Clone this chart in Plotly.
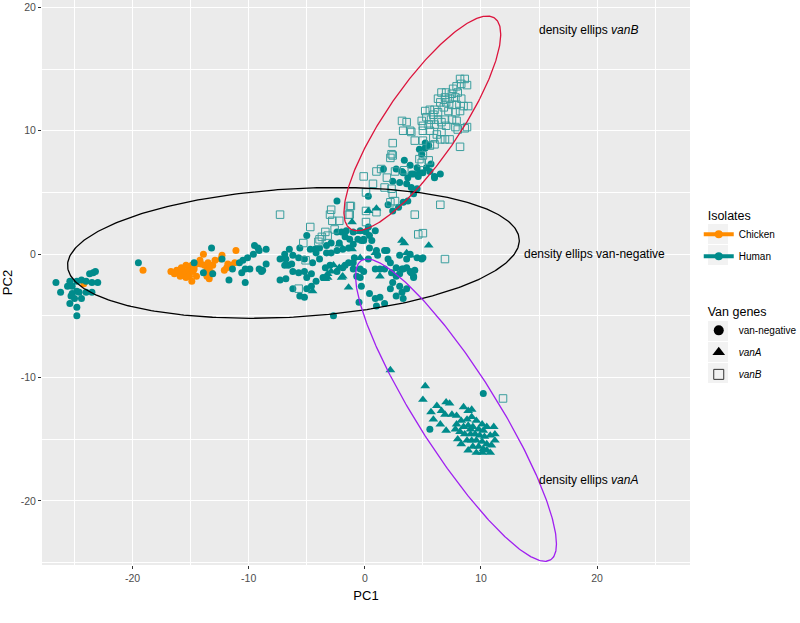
import numpy as np
import plotly.graph_objects as go

# ---------------- data ----------------
chicken_neg = [
    (-24.2, -2.4), (-19.1, -1.3), (-16.7, -1.4), (-16.2, -1.3), (-15.9, -1.5), (-15.8, -1.1),
    (-15.7, -1.3), (-15.5, -1.6), (-15.4, -0.9), (-15.2, -1.3), (-15.1, -1.8), (-14.9, -2.2),
    (-14.8, -1.4), (-14.7, -1.2), (-14.5, -1.8), (-15.4, -1.9), (-15.9, -1.8), (-14.2, -0.5),
    (-14.1, -0.8), (-13.9, 0.0), (-13.8, -0.9), (-13.6, -1.3), (-13.5, -0.7), (-13.4, -1.2),
    (-13.2, -1.5), (-13.1, -0.9), (-12.9, -0.5), (-13.6, -1.8), (-13.4, -2.0), (-14.5, -0.8),
    (-14.9, -0.9), (-12.3, -0.1), (-12.4, -0.4), (-11.9, -1.1), (-11.8, -0.8), (-11.5, -0.9),
    (-11.1, 0.3), (-11.2, -0.7), (-12.1, -1.3), (-16.4, -1.6),
]

human_neg = [
    # far-left cluster
    (-26.6, -2.3), (-26.2, -3.1), (-25.6, -2.6), (-25.4, -2.2), (-24.8, -2.2), (-24.4, -2.1),
    (-24.0, -2.2), (-23.7, -1.6), (-23.4, -1.5), (-23.2, -1.4), (-23.0, -2.3), (-23.5, -2.3),
    (-25.2, -2.6), (-24.8, -3.0), (-24.6, -3.1), (-24.0, -3.1), (-23.5, -3.1), (-25.3, -3.4),
    (-25.0, -3.6), (-24.4, -3.6), (-25.4, -4.0), (-24.8, -4.3), (-24.8, -5.0), (-25.2, -3.2),
    # among the chicken isolates
    (-19.5, -0.7), (-14.7, -0.7), (-13.2, 0.5), (-13.9, -1.5), (-13.1, -1.6), (-12.3, -0.4),
    (-11.7, -2.1), (-11.4, -1.2),
    # left-middle
    (-10.8, -0.7), (-10.5, -0.5), (-10.1, -0.3), (-9.6, 0.0), (-9.5, 0.7), (-9.2, 0.5),
    (-9.1, 0.3), (-8.5, 0.4), (-10.6, -1.5), (-10.3, -2.3), (-9.9, -1.2), (-9.1, -1.2),
    (-8.8, -1.3), (-8.5, -0.8), (-7.3, -0.4), (-7.3, -2.1), (-6.8, -2.0), (-6.6, -0.9),
    (-8.9, -1.4), (-10.3, -1.2),
    # middle
    (-2.4, 4.3), (-5.0, 1.5), (-2.4, 1.8), (-2.0, 1.8), (-1.6, 1.9), (-2.2, 0.9), (-2.9, 0.9),
    (-3.3, 0.7), (-4.3, 0.4), (-4.2, 0.1), (-4.7, 0.4), (-5.6, 0.5), (-6.5, 0.4), (-6.9, 0.0),
    (-6.8, -0.4), (-6.2, -0.1), (-5.7, -0.3), (-6.3, -0.8), (-6.9, -0.9), (-6.2, -1.4),
    (-5.7, -1.5), (-5.2, -1.4), (-5.0, -1.9), (-4.6, -1.6), (-4.5, -0.7), (-3.9, -0.4),
    (-3.3, 0.1), (-2.9, 0.1), (-2.4, 0.3), (-1.9, 0.4), (-1.4, 0.5), (-1.0, 0.8), (-0.6, 1.2),
    (-0.1, 1.1), (-1.3, 1.2), (-1.7, 1.4), (-6.2, -2.8), (-5.6, -3.4), (-5.2, -3.5),
    (-4.6, -2.6), (-4.2, -2.2), (-3.6, -1.9), (-3.0, -0.9), (-2.4, -1.4), (-1.9, -1.1),
    (-1.4, -0.7), (-0.9, -0.3), (-1.0, -1.2), (-0.7, -1.8), (-0.5, -3.9), (-2.7, -5.0),
    (-3.9, 0.5), (-5.2, -0.4), (-3.4, -1.1), (-5.0, -2.8),
    # lower part of the vanB ellipse
    (3.3, 6.6), (3.7, 6.2), (4.2, 6.5), (4.6, 6.3), (5.0, 6.6), (5.6, 6.7), (6.0, 6.3),
    (6.5, 6.5), (2.4, 5.9), (3.0, 5.8), (3.6, 5.7), (4.0, 5.4), (4.5, 5.3), (4.2, 4.9),
    (3.7, 4.3), (3.3, 4.2), (2.9, 3.8), (2.4, 3.5), (2.0, 4.0), (0.3, 4.7),
    (4.7, 8.5), (5.2, 8.6), (5.5, 8.8), (4.9, 8.1), (3.4, 7.6), (3.9, 7.2), (4.5, 7.0),
    (5.3, 7.0), (5.7, 7.3), (1.6, 6.9), (3.2, 6.7), (4.0, 6.5), (4.7, 6.6), (6.0, 6.2),
    (5.2, 9.0), (2.7, 6.9),
    # centre right
    (-1.0, 1.8), (-0.4, 1.9), (0.3, 2.2), (0.9, 1.9), (0.4, 1.5), (-0.1, 1.2), (0.6, 1.1),
    (1.9, 0.3), (3.0, -0.1), (3.6, -0.4), (4.5, -0.3), (5.0, -0.3), (2.2, -0.7), (2.7, -1.1),
    (3.3, -1.2), (3.9, -1.4), (3.0, -1.6), (4.2, -1.8), (-1.7, -0.9), (-1.0, -0.7),
    (-0.4, -1.2), (1.7, -1.2), (1.0, 0.3),
    (-0.4, -1.9), (-0.3, -2.6), (0.4, -3.2), (0.9, -3.6), (1.3, -3.5), (1.7, -4.0), (1.0, -4.2),
    (2.2, -2.8), (2.4, -2.3), (2.7, -1.8), (2.3, -1.5), (3.0, -2.6), (3.2, -3.1), (2.7, -3.4),
    (3.3, -3.6), (3.6, -2.8), (4.0, -1.5), (4.2, -1.9), (4.3, -1.3), (3.6, -1.1), (3.2, -1.2),
    (2.0, -0.4), (1.7, 0.3), (4.9, -0.4), (3.9, 0.0), (1.1, -0.1), (0.3, -0.4), (0.9, -1.2),
    (1.3, -1.2), (-0.1, -1.4), (0.4, 0.5), (-0.3, 1.1), (0.1, 1.8),
    # near the vanA cluster
    (10.2, -11.3), (5.6, -14.2),
]

human_vanA = [
    (-4.5, -3.0), (-3.4, -2.0), (-3.2, -1.6), (-2.2, -1.1), (-2.0, -1.9), (-1.4, -2.7),
    (-2.2, 0.8), (-1.1, 2.6), (0.3, 3.5), (1.0, 3.7), (3.2, 1.1), (3.4, 0.9), (5.5, 0.7),
    (0.9, 0.1), (3.6, 0.1), (1.3, -1.8), (3.9, -0.1), (-0.4, 1.8), (-1.9, -1.8), (-2.9, -1.4),
    (-3.2, -1.9), (-2.7, -0.9), (-1.1, 0.4), (-0.4, -0.3),
    # vanA cluster
    (2.2, -9.4), (5.2, -10.7), (5.0, -11.8), (5.7, -12.8), (5.9, -13.4), (6.2, -12.3),
    (6.6, -12.7), (7.0, -12.0), (7.3, -12.1), (6.9, -13.0), (7.5, -13.0), (7.9, -13.1),
    (8.5, -12.4), (8.9, -12.7), (9.2, -12.6), (6.5, -13.8), (7.0, -14.3), (8.0, -15.0),
    (8.3, -15.4), (8.9, -15.9), (11.1, -14.0), (11.2, -15.1), (10.8, -16.1),
    (7.9, -13.8), (8.3, -13.5), (8.8, -13.4), (9.2, -13.2), (9.6, -13.5), (10.1, -13.8),
    (10.5, -14.0), (8.5, -14.0), (8.9, -13.9), (9.3, -14.0), (9.8, -14.2), (10.2, -14.3),
    (8.2, -14.4), (8.6, -14.6), (9.1, -14.6), (9.5, -14.6), (9.9, -14.7), (10.3, -14.8),
    (10.8, -14.7), (8.8, -15.1), (9.2, -15.1), (9.6, -15.1), (10.1, -15.2), (10.5, -15.4),
    (9.3, -15.6), (9.8, -15.6), (10.2, -15.8), (9.6, -16.1), (10.1, -16.1), (10.5, -15.9),
    (7.8, -14.2), (10.9, -15.5), (11.2, -14.6), (9.1, -14.2),
]

human_vanB = [
    (-7.3, 3.2), (-4.7, 2.2), (-5.3, 0.9), (-5.7, -2.8), (-4.0, 1.0), (-3.9, 1.2), (-3.4, 1.8),
    (-3.2, 1.5), (-3.0, 3.2), (-2.9, 3.6), (-2.8, 2.7), (-2.6, 2.0), (-2.2, 2.7), (-1.3, 3.2),
    (-1.2, 3.9), (0.1, 3.5), (-0.1, 6.3), (1.0, 6.7), (1.9, 6.2), (0.7, 5.7), (1.7, 5.4),
    (2.3, 5.3), (0.1, 5.0), (2.2, 4.2), (2.6, 4.3), (1.0, 3.4), (-1.3, 3.9), (-1.4, 3.2),
    (4.3, 3.2), (6.5, 4.0), (4.6, 1.6), (5.0, 1.7), (6.9, -0.4), (0.1, 2.6), (-5.1, -0.5),
    (-3.7, 1.4), (2.4, 4.9),
    # upper vanB cluster
    (8.2, 14.2), (8.6, 14.2), (8.3, 13.8), (8.8, 13.7), (7.9, 13.6), (7.6, 13.4), (8.0, 13.1),
    (7.5, 13.0), (7.0, 13.1), (6.6, 13.1), (6.9, 12.7), (7.3, 12.6), (7.8, 12.7), (8.3, 12.6),
    (6.3, 12.6), (6.5, 12.3), (7.0, 12.3), (7.5, 12.1), (7.9, 12.1), (8.5, 12.0), (8.9, 12.0),
    (6.8, 11.9), (6.0, 11.7), (5.6, 11.7), (5.2, 11.6), (5.9, 11.3), (6.3, 11.5), (7.2, 11.6),
    (7.8, 11.5), (8.2, 11.6), (5.3, 11.1), (5.7, 10.9), (6.3, 10.9), (6.9, 10.9), (7.5, 10.9),
    (7.9, 10.8), (4.9, 10.8), (5.0, 10.4), (5.5, 10.5), (6.0, 10.5), (6.6, 10.7), (7.0, 10.4),
    (7.8, 10.3), (8.0, 10.1), (8.8, 10.3), (3.2, 10.8), (3.6, 10.7), (3.3, 10.0), (4.0, 9.9),
    (3.9, 10.0), (5.0, 10.0), (5.6, 10.0), (6.2, 9.7), (6.6, 9.9), (5.9, 9.4), (6.5, 9.3),
    (6.9, 9.3), (7.3, 9.3), (6.0, 8.9), (5.6, 8.8), (2.4, 9.0), (4.3, 9.2), (5.0, 9.2),
    (8.2, 8.7), (2.3, 8.1), (2.2, 7.8), (2.4, 8.0), (2.6, 6.7), (5.0, 8.0), (5.5, 7.6),
    (4.9, 7.4), (1.4, 6.9), (3.4, 6.8), (4.7, 7.7), (8.6, 10.2),
    # near the vanA cluster
    (11.9, -11.7),
]

# density ellipses: centre x, centre y, half-width, half-height, phase
ellipse_names = ["van-negative", "vanB", "vanA"]
ellipse_cx = [-6.15, 4.95, 7.85]
ellipse_cy = [0.1, 10.6, -12.65]
ellipse_a = [19.45, 6.75, 8.65]
ellipse_b = [5.3, 8.7, 12.25]
ellipse_phase = [0.191, 0.979, -1.088]
ellipse_colors = ["#000000", "#DC143C", "#A020F0"]

label_text = ["density ellips <i>vanB</i>", "density ellips van-negative", "density ellips <i>vanA</i>"]
label_x = [14.8, 13.5, 14.8]
label_y = [18.2, 0.0, -18.3]

x_ticks = [-20, -10, 0, 10, 20]
y_ticks = [-20, -10, 0, 10, 20]

TEAL = "#008B8B"
ORANGE = "#FF8C00"
FONT = "Liberation Sans, Arial, sans-serif"
NB = "\u00a0"

fig = go.Figure()


def xs(pts):
    return [p[0] for p in pts]


def ys(pts):
    return [p[1] for p in pts]


fig.add_trace(go.Scatter(x=xs(chicken_neg), y=ys(chicken_neg), mode="markers",
                         marker=dict(symbol="circle", size=7, color=ORANGE),
                         showlegend=False, hoverinfo="x+y"))
fig.add_trace(go.Scatter(x=xs(human_neg), y=ys(human_neg), mode="markers",
                         marker=dict(symbol="circle", size=7, color=TEAL),
                         showlegend=False, hoverinfo="x+y"))
fig.add_trace(go.Scatter(x=xs(human_vanB), y=ys(human_vanB), mode="markers",
                         marker=dict(symbol="square-open", size=7.5, color="#3A9E9E",
                                     line=dict(width=1)),
                         showlegend=False, hoverinfo="x+y"))
fig.add_trace(go.Scatter(x=xs(human_vanA), y=ys(human_vanA), mode="markers",
                         marker=dict(symbol="triangle-up", size=8.5, color=TEAL),
                         showlegend=False, hoverinfo="x+y"))

t = np.linspace(0, 2 * np.pi, 361)
for name, cx, cy, a, b, ph, col in zip(ellipse_names, ellipse_cx, ellipse_cy, ellipse_a,
                                       ellipse_b, ellipse_phase, ellipse_colors):
    fig.add_trace(go.Scatter(x=cx + a * np.cos(t), y=cy + b * np.sin(t + ph), mode="lines",
                             line=dict(color=col, width=1.3), showlegend=False,
                             name="density ellips " + name, hoverinfo="skip"))

# legend entries (each in its own group so tracegroupgap spaces them)
fig.add_trace(go.Scatter(x=[None], y=[None], mode="lines+markers", name="Chicken",
                         line=dict(color=ORANGE, width=4), marker=dict(size=8, color=ORANGE),
                         legend="legend", legendgroup="g1"))
fig.add_trace(go.Scatter(x=[None], y=[None], mode="lines+markers", name="Human",
                         line=dict(color=TEAL, width=4), marker=dict(size=8, color=TEAL),
                         legend="legend", legendgroup="g2"))
fig.add_trace(go.Scatter(x=[None], y=[None], mode="markers", name="van-negative",
                         marker=dict(symbol="circle", size=10, color="black"),
                         legend="legend2", legendgroup="g3"))
fig.add_trace(go.Scatter(x=[None], y=[None], mode="markers", name="<i>vanA</i>",
                         marker=dict(symbol="triangle-up", size=11, color="black"),
                         legend="legend2", legendgroup="g4"))
fig.add_trace(go.Scatter(x=[None], y=[None], mode="markers", name="<i>vanB</i>",
                         marker=dict(symbol="square-open", size=10, color="#333333",
                                     line=dict(width=1)),
                         legend="legend2", legendgroup="g5"))

for txt, lx, ly in zip(label_text, label_x, label_y):
    fig.add_annotation(x=lx, y=ly, text=txt, showarrow=False, xanchor="left", yanchor="middle",
                       font=dict(family=FONT, size=12, color="black"))

# light key backgrounds behind the legend symbols (pixel centres -> paper coords)
key_centres_px = [234, 255, 331, 352, 373]
for cpx in key_centres_px:
    fig.add_shape(type="rect", xref="paper", yref="paper",
                  x0=(708 - 42) / 648, x1=(728 - 42) / 648,
                  y0=(565 - (cpx + 10)) / 565, y1=(565 - (cpx - 10)) / 565,
                  fillcolor="#F2F2F2", line=dict(width=0), layer="below")

axis_common = dict(showgrid=True, gridcolor="white", gridwidth=1.1, zeroline=False,
                   showline=False, ticks="outside", ticklen=3, tickwidth=1, tickcolor="#333333",
                   tickfont=dict(family=FONT, size=10.5, color="#4D4D4D"), automargin=False,
                   minor=dict(showgrid=True, gridcolor="white", gridwidth=0.5, dtick=5, tick0=0,
                              ticks=""))

fig.update_layout(
    width=800, height=623,
    margin=dict(l=42, r=110, t=0, b=58, autoexpand=False),
    paper_bgcolor="white", plot_bgcolor="#EBEBEB",
    font=dict(family=FONT, color="black"),
    xaxis=dict(range=[-27.8, 28.0], tickvals=x_ticks, ticktext=[str(v) for v in x_ticks],
               title=dict(text="PC1", font=dict(size=13), standoff=8), **axis_common),
    yaxis=dict(range=[-25.2, 20.6], tickvals=y_ticks, ticktext=[str(v) for v in y_ticks],
               title=dict(text="PC2", font=dict(size=13), standoff=8), **axis_common),
    legend=dict(title=dict(text=NB + NB + "Isolates", font=dict(size=12.5)), x=1.0135, y=0.6397,
                xanchor="left", yanchor="top", font=dict(size=10), bgcolor="rgba(0,0,0,0)",
                tracegroupgap=3, itemwidth=30),
    legend2=dict(title=dict(text=NB + NB + "Van genes", font=dict(size=12.5)), x=1.0135, y=0.4697,
                 xanchor="left", yanchor="top", font=dict(size=10), bgcolor="rgba(0,0,0,0)",
                 tracegroupgap=3, itemwidth=30),
    showlegend=True,
)

fig.write_html("out.html", config={"displayModeBar": False},
               post_script="document.body.style.margin='0px';")
